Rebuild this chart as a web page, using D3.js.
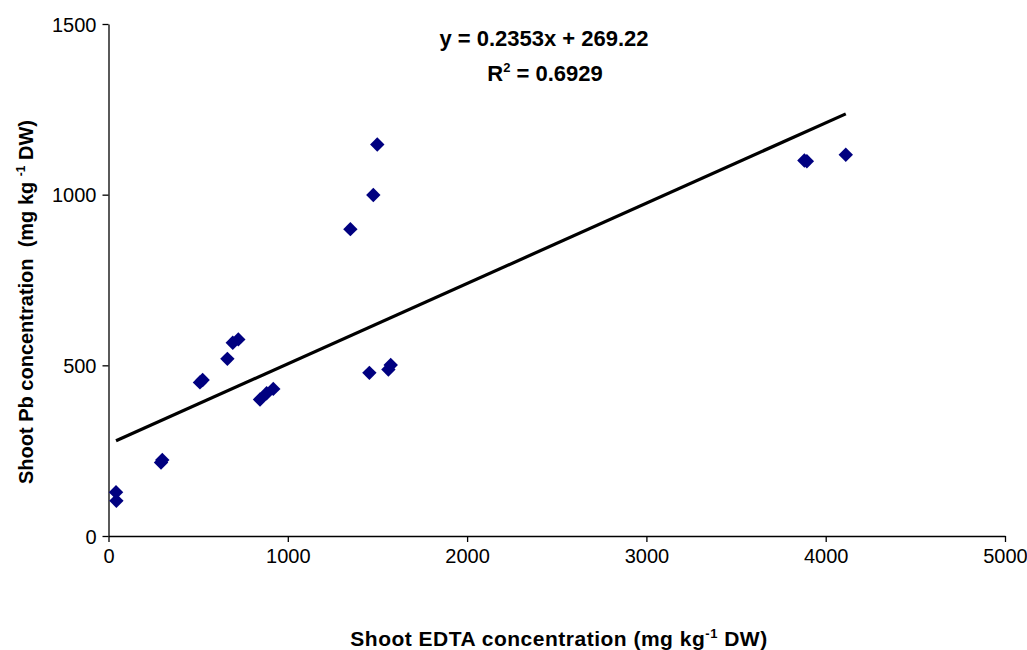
<!DOCTYPE html>
<html>
<head>
<meta charset="utf-8">
<script src="https://cdn.jsdelivr.net/npm/d3@7"></script>
<style>
  body { margin: 0; background: #fff; }
  text { font-family: "Liberation Sans", Arial, sans-serif; }
</style>
</head>
<body>
<div id="chart"></div>
<script>
// shoot EDTA (x) vs shoot Pb (y)
var edta = [42, 44, 293, 300, 510, 525, 663, 693, 724, 845, 882, 919,
            1349, 1455, 1477, 1499, 1561, 1574, 3881, 3895, 4112];
var pb   = [128, 103, 215, 223, 450, 457, 519, 566, 576, 400, 418, 431,
            899, 478, 999, 1147, 488, 501, 1100, 1098, 1117];
var xTicks = [0, 1000, 2000, 3000, 4000, 5000];
var yTicks = [0, 500, 1000, 1500];
var slope = 0.2353, intercept = 269.22;

var width = 1027, height = 650;
var svg = d3.select("#chart").append("svg")
    .attr("width", width).attr("height", height);

var x = d3.scaleLinear().domain([0, 5000]).range([108.5, 1005]);
var y = d3.scaleLinear().domain([0, 1500]).range([536, 24]);

var xAxis = svg.append("g")
    .attr("transform", "translate(0," + y(0) + ")")
    .call(d3.axisBottom(x).tickValues(xTicks).tickSize(6).tickSizeOuter(0).tickFormat(d3.format("d")));
var yAxis = svg.append("g")
    .attr("transform", "translate(" + x(0) + ",0)")
    .call(d3.axisLeft(y).tickValues(yTicks).tickSize(6).tickSizeOuter(0).tickFormat(d3.format("d")));

[xAxis, yAxis].forEach(function(a) {
  a.select(".domain").attr("stroke", "#000").attr("stroke-width", 1.3);
  a.selectAll(".tick line").attr("stroke", "#000").attr("stroke-width", 1.3);
  a.selectAll(".tick text").attr("fill", "#000")
    .style("font-family", "'Liberation Sans', Arial, sans-serif").style("font-size", "20px");
});
xAxis.selectAll(".tick text").attr("y", 13).attr("dy", "0.71em");
yAxis.selectAll(".tick text").attr("x", -12).attr("dy", "0.35em");

// trend line
var xr = d3.extent(edta);
svg.append("line")
    .attr("x1", x(xr[0])).attr("y1", y(slope * xr[0] + intercept))
    .attr("x2", x(xr[1])).attr("y2", y(slope * xr[1] + intercept))
    .attr("stroke", "#000").attr("stroke-width", 3.2);

// diamonds
var r = 7.2;
svg.selectAll("path.pt")
  .data(edta.map(function(d, i) { return [d, pb[i]]; }))
  .enter().append("path")
    .attr("class", "pt")
    .attr("d", "M0," + (-r) + "L" + r + ",0L0," + r + "L" + (-r) + ",0Z")
    .attr("transform", function(d) { return "translate(" + x(d[0]) + "," + y(d[1]) + ")"; })
    .attr("fill", "#000080");

// equation
svg.append("text")
    .attr("x", 544).attr("y", 46)
    .attr("text-anchor", "middle")
    .style("font-size", "22px").style("font-weight", "bold")
    .text("y = 0.2353x + 269.22");
var r2 = svg.append("text")
    .attr("x", 545).attr("y", 81)
    .attr("text-anchor", "middle")
    .style("font-size", "22px").style("font-weight", "bold");
r2.append("tspan").text("R");
r2.append("tspan").attr("dy", -9).style("font-size", "13px").text("2");
r2.append("tspan").attr("dy", 9).text(" = 0.6929");

// axis titles
var xt = svg.append("text")
    .attr("x", 559).attr("y", 646)
    .attr("text-anchor", "middle")
    .style("font-size", "21px").style("font-weight", "bold")
    .style("letter-spacing", "0.5px");
xt.append("tspan").text("Shoot EDTA concentration (mg kg");
xt.append("tspan").attr("dy", -8).style("font-size", "13px").text("-1");
xt.append("tspan").attr("dy", 8).text(" DW)");

var yt = svg.append("text")
    .attr("transform", "translate(33,302) rotate(-90)")
    .attr("text-anchor", "middle")
    .style("font-size", "20px").style("font-weight", "bold")
    .attr("xml:space", "preserve");
yt.append("tspan").text("Shoot Pb concentration  (mg kg ");
yt.append("tspan").attr("dy", -8).style("font-size", "12px").text("-1");
yt.append("tspan").attr("dy", 8).text(" DW)");
</script>
</body>
</html>
